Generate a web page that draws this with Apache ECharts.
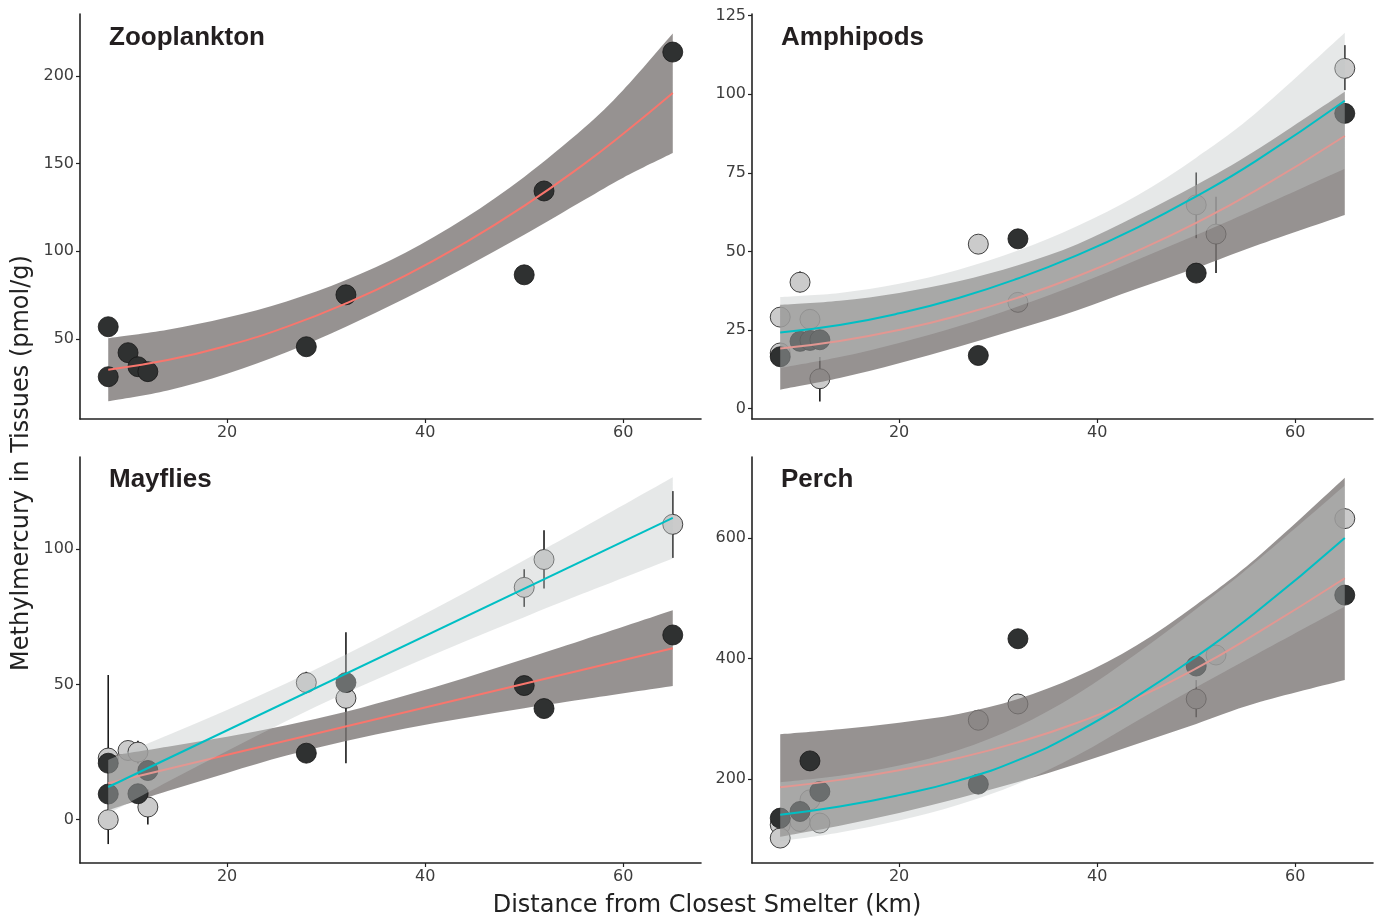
<!DOCTYPE html>
<html>
<head>
<meta charset="utf-8">
<script src="https://cdn.jsdelivr.net/npm/echarts@6/dist/echarts.min.js"></script>
<style>
  html, body { margin: 0; padding: 0; background: #fff; }
  #chart { width: 1376px; height: 922px; }
</style>
</head>
<body>
<div id="chart"></div>
<script>
// ---------- data (distance km, MeHg pmol/g) ----------
// Zooplankton
const zooDark = [[8,57],[8,28.5],[10,42.2],[11,34.2],[12,31.4],[28,45.6],[32,75.2],[50,86.6],[52,134.4],[65,213.6]];
const zooX = [8, 14, 20, 26, 32, 38, 44, 50, 56, 60, 65];
const zooFit = [32.5, 38.0, 46.2, 56.9, 70.3, 86.2, 104.8, 125.9, 149.6, 167.0, 190.2];
const zooUpper = [50.5, 55.3, 62.2, 71.4, 83.6, 99.2, 118.8, 142.4, 170.1, 192.0, 224.2];
const zooLower = [14.5, 20.7, 30.2, 42.4, 57.0, 73.2, 90.8, 109.4, 129.1, 142.0, 156.0];

// Amphipods
const amphDark = [[8,16.5],[10,21.4],[11,21.7],[12,21.9],[28,16.9],[32,54.0],[50,43.1],[65,93.9]];
const amphLight = [[8,29.1],[8,17.7],[10,40.2],[11,28.4],[12,9.5],[28,52.3],[32,33.8],[50,64.8],[52,55.5],[65,108.2]];
const amphBars = [[10,37,43.6],[12,2.3,16.4],[50,54.2,75.1],[52,43.1,67.4],[65,101.3,115.6]];
const amphX = [8, 14, 20, 26, 32, 38, 44, 50, 56, 65];
const amphDarkFit = [19.1, 21.5, 25.0, 29.6, 35.3, 42.1, 50.1, 59.1, 69.3, 86.7];
const amphDarkUpper = [33.0, 34.3, 36.8, 40.5, 45.6, 52.3, 61.3, 71.1, 82.1, 100.8];
const amphDarkLower = [6.0, 9.7, 14.4, 19.7, 25.3, 31.3, 38.1, 44.7, 51.8, 61.6];
const amphLightFit = [24.2, 26.6, 30.3, 35.2, 41.4, 48.8, 57.5, 67.5, 78.7, 97.9];
const amphLightUpper = [35.5, 36.8, 39.7, 44.2, 50.3, 58.1, 67.7, 79.8, 93.9, 119.5];
const amphLightLower = [12.9, 16.4, 20.9, 26.2, 32.5, 39.5, 47.3, 55.2, 63.5, 76.3];

// Mayflies
const mayDark = [[8,9.5],[8,20.9],[11,9.6],[12,18.2],[28,24.6],[32,50.7],[50,49.6],[52,41.1],[65,68.3]];
const mayLight = [[8,22.8],[8,0],[10,25.6],[11,25.0],[12,4.7],[28,50.7],[32,44.9],[50,85.9],[52,96.2],[65,109.2]];
const mayBars = [[8,-9,53.5],[11,20.8,29.2],[12,-1.8,11.2],[28,46.7,54.7],[32,20.9,69.3],[50,78.7,92.6],[52,85.5,107],[65,96.8,121.5]];
const mayFitX = [8, 65];
const mayDarkFit = [13.5, 63.4];
const mayLightFit = [12.1, 111.6];
const mayX = [8, 14, 20, 26, 32, 38, 44, 50, 56, 65];
const mayDarkUpper = [23.5, 27.0, 30.7, 34.9, 39.9, 45.9, 52.4, 59.4, 66.5, 77.4];
const mayDarkLower = [3.5, 10.6, 17.3, 23.7, 29.1, 33.7, 37.6, 41.2, 44.5, 49.4];
const mayLightUpper = [22.1, 31.2, 40.6, 50.5, 61.1, 72.4, 83.9, 95.9, 108.1, 126.6];
const mayLightLower = [2.1, 14.0, 25.4, 36.5, 46.9, 56.6, 65.9, 74.9, 83.7, 96.6];

// Perch
const perchDark = [[8,134.8],[10,145.8],[11,229.8],[12,179],[28,191.2],[32,432.6],[50,387.3],[65,505]];
const perchLight = [[8,123.7],[8,101.7],[10,129.2],[11,165.2],[12,126.6],[28,297.3],[32,324.3],[50,332.6],[52,405.6],[65,632]];
const perchBars = [[50,302.3,364],[65,615.6,648.8]];
const perchX = [8, 14, 20, 26, 32, 38, 44, 50, 56, 65];
const perchDarkFit = [186, 198.3, 214.3, 234.7, 260.6, 293.2, 333.9, 383.2, 440.5, 533];
const perchDarkUpper = [274, 282.3, 293.3, 307.7, 332.6, 370.2, 421.9, 489.2, 565.5, 700];
const perchDarkLower = [104, 122.3, 143.3, 167.7, 194.6, 225.2, 257.9, 291.2, 325.5, 364];
const perchLightFit = [140.3, 154, 173, 197, 231, 278, 337, 403, 476, 600];
const perchLightUpper = [194.3, 205, 222, 248, 287, 341, 408, 482, 560, 687];
const perchLightLower = [96.3, 111, 131, 157, 192, 239, 296, 352, 406, 486];

const panelNames = ['Zooplankton', 'Amphipods', 'Mayflies', 'Perch'];
const xTicks = [20, 40, 60];
const yTicks = [[50, 100, 150, 200], [0, 25, 50, 75, 100, 125], [0, 50, 100], [200, 400, 600]];

// ---------- layout / style ----------
const yRanges = [[4.4, 235.3], [-3.3, 125.5], [-16, 134.1], [60.3, 734.3]];
const grids = [
  { left: 80, top: 14, width: 621, height: 405 },
  { left: 752, top: 14, width: 621, height: 405 },
  { left: 80, top: 457, width: 621, height: 406 },
  { left: 752, top: 457, width: 621, height: 406 }
];
const titlePos = [[109, 37.5], [781, 37.5], [109, 480], [781, 480]];

const SALMON = '#F8766D', CYAN = '#00BFC4';
const DARK_BAND = 'rgba(124,119,118,0.8)', LIGHT_BAND = 'rgba(195,200,200,0.41)';
const AXIS_COL = '#222';
const TICK_FONT = 'DejaVu Sans';

const series = [];

function pairs(xs, ys) { return xs.map((x, i) => [x, ys[i]]); }

// smooth path through pixel points (Catmull-Rom as cubic bezier)
function curvePath(pts, moveFirst) {
  let d = (moveFirst ? 'M' : 'L') + pts[0][0] + ' ' + pts[0][1];
  for (let i = 0; i < pts.length - 1; i++) {
    const p0 = pts[Math.max(i - 1, 0)], p1 = pts[i], p2 = pts[i + 1], p3 = pts[Math.min(i + 2, pts.length - 1)];
    const c1 = [p1[0] + (p2[0] - p0[0]) / 6, p1[1] + (p2[1] - p0[1]) / 6];
    const c2 = [p2[0] - (p3[0] - p1[0]) / 6, p2[1] - (p3[1] - p1[1]) / 6];
    d += 'C' + c1[0] + ' ' + c1[1] + ' ' + c2[0] + ' ' + c2[1] + ' ' + p2[0] + ' ' + p2[1];
  }
  return d;
}

function band(g, xs, lo, hi, color, z) {
  series.push({
    type: 'custom', xAxisIndex: g, yAxisIndex: g, z: z, silent: true,
    data: xs.map((x, i) => [x, lo[i], hi[i]]),
    encode: { x: 0, y: [1, 2] },
    renderItem: function (params, api) {
      if (params.dataIndex !== 0) return null;
      const up = xs.map((x, i) => api.coord([x, hi[i]]));
      const dn = xs.map((x, i) => api.coord([x, lo[i]])).reverse();
      const d = curvePath(up, true) + curvePath(dn, false) + 'Z';
      return { type: 'path', shape: { pathData: d }, style: { fill: color } };
    }
  });
}

function fitLine(g, xs, ys, color, z) {
  series.push({
    type: 'line', xAxisIndex: g, yAxisIndex: g, z: z, silent: true,
    data: pairs(xs, ys), symbol: 'none', showSymbol: false,
    smooth: 0.5,
    lineStyle: { color: color, width: 2 }
  });
}

function points(g, data, fill, z) {
  series.push({
    type: 'scatter', xAxisIndex: g, yAxisIndex: g, z: z, silent: true,
    data: data, symbolSize: 20,
    itemStyle: { color: fill, borderColor: '#161616', borderWidth: 0.8, opacity: 1 }
  });
}

function errBars(g, data, z) {
  series.push({
    type: 'custom', xAxisIndex: g, yAxisIndex: g, z: z, silent: true,
    data: data, encode: { x: 0, y: [1, 2] },
    renderItem: function (params, api) {
      const a = api.coord([api.value(0), api.value(1)]);
      const b = api.coord([api.value(0), api.value(2)]);
      return { type: 'line', shape: { x1: a[0], y1: a[1], x2: b[0], y2: b[1] },
               style: { stroke: '#1a1a1a', lineWidth: 1.6 } };
    }
  });
}

// draw order: light points / bars, dark band, dark points, salmon fit, light band, cyan fit
band(0, zooX, zooLower, zooUpper, DARK_BAND, 2);
points(0, zooDark, '#2f3131', 3);
fitLine(0, zooX, zooFit, SALMON, 4);

points(1, amphLight, '#cbcbcb', 1);
errBars(1, amphBars, 1);
band(1, amphX, amphDarkLower, amphDarkUpper, DARK_BAND, 2);
points(1, amphDark, '#2f3131', 3);
fitLine(1, amphX, amphDarkFit, SALMON, 4);
band(1, amphX, amphLightLower, amphLightUpper, LIGHT_BAND, 5);
fitLine(1, amphX, amphLightFit, CYAN, 6);

points(2, mayLight, '#cbcbcb', 1);
errBars(2, mayBars, 1);
band(2, mayX, mayDarkLower, mayDarkUpper, DARK_BAND, 2);
points(2, mayDark, '#2f3131', 3);
fitLine(2, mayFitX, mayDarkFit, SALMON, 4);
band(2, mayX, mayLightLower, mayLightUpper, LIGHT_BAND, 5);
fitLine(2, mayFitX, mayLightFit, CYAN, 6);

points(3, perchLight, '#cbcbcb', 1);
errBars(3, perchBars, 1);
band(3, perchX, perchDarkLower, perchDarkUpper, DARK_BAND, 2);
points(3, perchDark, '#2f3131', 3);
fitLine(3, perchX, perchDarkFit, SALMON, 4);
band(3, perchX, perchLightLower, perchLightUpper, LIGHT_BAND, 5);
fitLine(3, perchX, perchLightFit, CYAN, 6);

const axisLine = { show: true, onZero: false, lineStyle: { color: AXIS_COL, width: 1.6 } };
const labelStyle = { fontFamily: TICK_FONT, fontSize: 16, color: '#3d3d3d' };

const xAxis = grids.map((g, i) => ({
  gridIndex: i, type: 'value', min: 5.15, max: 67.85,
  axisLine: axisLine,
  axisTick: { show: true, length: 4, customValues: xTicks, lineStyle: { color: AXIS_COL, width: 1.2 } },
  axisLabel: Object.assign({ margin: 6, customValues: xTicks }, labelStyle),
  splitLine: { show: false }
}));

const yAxis = grids.map((g, i) => ({
  gridIndex: i, type: 'value', min: yRanges[i][0], max: yRanges[i][1],
  axisLine: axisLine,
  axisTick: { show: true, length: 4, customValues: yTicks[i], lineStyle: { color: AXIS_COL, width: 1.2 } },
  axisLabel: Object.assign({ margin: 6, customValues: yTicks[i] }, labelStyle),
  splitLine: { show: false }
}));

const graphic = panelNames.map((name, i) => ({
  type: 'text', x: titlePos[i][0], y: titlePos[i][1], silent: true,
  style: { text: name, font: 'bold 26px "Liberation Sans"', fill: '#231f20',
           textAlign: 'left', textVerticalAlign: 'middle' }
}));
graphic.push({
  type: 'text', x: 22, y: 463, rotation: Math.PI / 2, silent: true,
  style: { text: 'Methylmercury in Tissues (pmol/g)', font: '24px "DejaVu Sans"', fill: '#222',
           textAlign: 'center', textVerticalAlign: 'middle' }
});
graphic.push({
  type: 'text', x: 707, y: 906, silent: true,
  style: { text: 'Distance from Closest Smelter (km)', font: '24px "DejaVu Sans"', fill: '#222',
           textAlign: 'center', textVerticalAlign: 'middle' }
});

const chart = echarts.init(document.getElementById('chart'));
chart.setOption({
  backgroundColor: '#fff',
  animation: false,
  grid: grids.map(g => Object.assign({ outerBoundsMode: 'none', containLabel: false }, g)),
  xAxis: xAxis,
  yAxis: yAxis,
  series: series,
  graphic: graphic
});
</script>
</body>
</html>
